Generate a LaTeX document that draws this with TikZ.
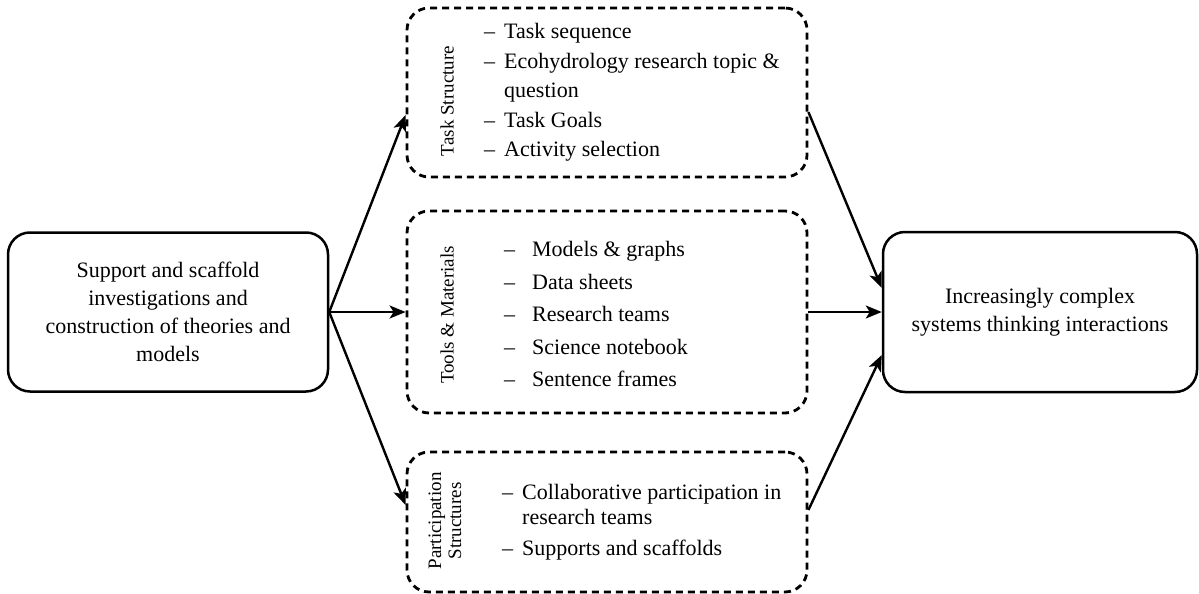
\documentclass[tikz,border=0pt]{standalone}
\usepackage{fontspec}
\setmainfont{Liberation Serif}
\usetikzlibrary{arrows.meta}
\begin{document}
\begin{tikzpicture}[x=1pt,y=-1pt,
  solidbox/.style={draw, line width=2.5pt, rounded corners=22pt, inner sep=0pt, align=center},
  dashbox/.style={draw, line width=2.8pt, dash pattern=on 7pt off 5pt, rounded corners=22pt, inner sep=0pt},
  conn/.style={line width=2.4pt, -{Stealth[length=16pt,width=13pt,inset=4pt]}},
  body/.style={font=\rmfamily\fontsize{22}{28}\selectfont},
  side/.style={font=\rmfamily\fontsize{19}{20}\selectfont, rotate=90, align=center, inner sep=0pt},
  listing/.style={anchor=west, inner sep=0pt}]

\useasboundingbox (0,0) rectangle (1199,594);

% outer boxes
\node[solidbox, minimum width=320pt, minimum height=159pt, body] (src) at (168,312)
  {Support and scaffold\\investigations and\\construction of theories and\\models};
\node[solidbox, minimum width=314pt, minimum height=160pt, body] (out) at (1040,312)
  {Increasingly complex\\systems thinking interactions};

% dashed groups
\node[dashbox, minimum width=400pt, minimum height=169pt] (task) at (607,92.5) {};
\node[dashbox, minimum width=400pt, minimum height=202pt] (tools) at (607,312) {};
\node[dashbox, minimum width=400pt, minimum height=140pt] (part) at (607,522) {};

% group titles
\node[side] (taskL) at (447,101) {Task Structure};
\node[side] (toolsL) at (447,315) {Tools \& Materials};
\node[side] (partL) at (445,521) {Participation\\Structures};

% group contents
\node[listing, font=\rmfamily\fontsize{22}{29.5}\selectfont] (taskI) at (484,92)
  {\begin{tabular}{@{}l@{\hspace{9pt}}l@{}}
   – & Task sequence\\
   – & Ecohydrology research topic \&\\
     & question\\
   – & Task Goals\\
   – & Activity selection
   \end{tabular}};
\node[listing, font=\rmfamily\fontsize{22}{32.5}\selectfont] (toolsI) at (504,315)
  {\begin{tabular}{@{}l@{\hspace{17pt}}l@{}}
   – & Models \& graphs\\
   – & Data sheets\\
   – & Research teams\\
   – & Science notebook\\
   – & Sentence frames
   \end{tabular}};
\node[listing, font=\rmfamily\fontsize{22}{25}\selectfont] (partI) at (502,522)
  {\begin{tabular}{@{}l@{\hspace{9pt}}l@{}}
   – & Collaborative participation in\\
     & research teams\\[6pt]
   – & Supports and scaffolds
   \end{tabular}};

% connectors
\draw[conn] (src.east) -- ([yshift=-22.5pt]task.west);
\draw[conn] (src.east) -- (tools.west);
\draw[conn] (src.east) -- ([yshift=17pt]part.west);
\draw[conn] ([yshift=-19.5pt]task.east) -- ([yshift=24pt]out.west);
\draw[conn] (tools.east) -- (out.west);
\draw[conn] ([yshift=12pt]part.east) -- ([yshift=-43pt]out.west);
\end{tikzpicture}
\end{document}
